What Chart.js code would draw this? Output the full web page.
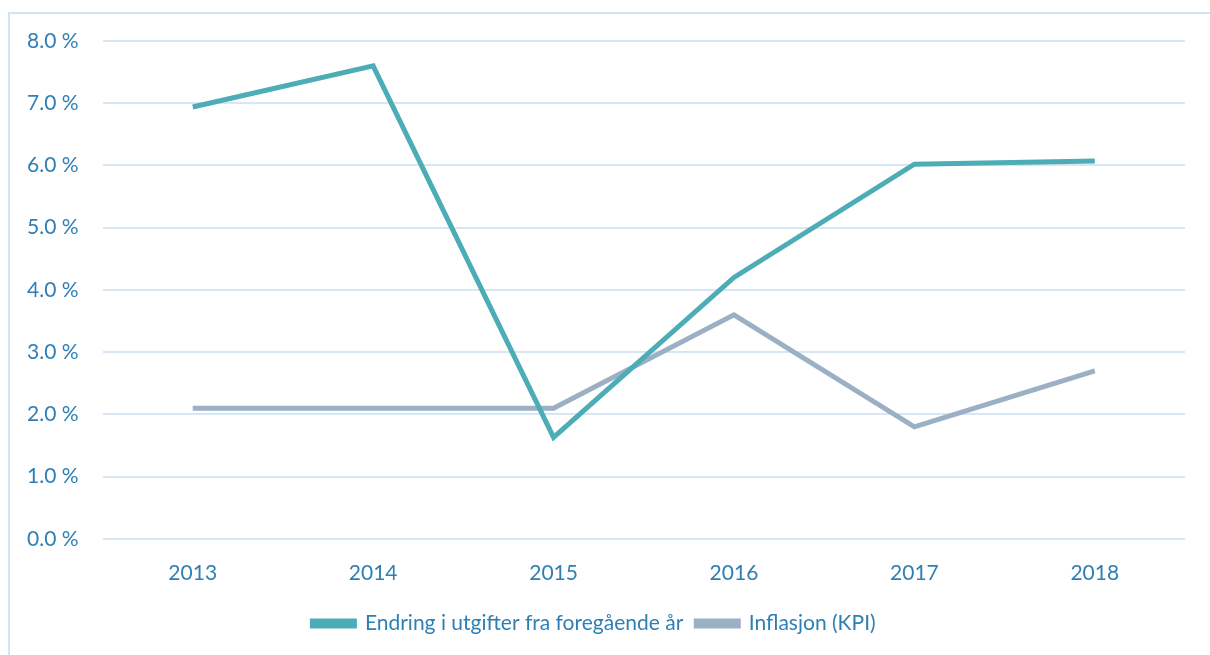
<!DOCTYPE html>
<html>
<head>
<meta charset="utf-8">
<script src="https://cdn.jsdelivr.net/npm/chart.js@4"></script>
<style>
  html, body { margin: 0; padding: 0; background: #fff; }
  #wrap { width: 1210px; height: 655px; }
</style>
</head>
<body>
<div id="wrap"><canvas id="chart"></canvas></div>
<script>
const years = ['2013', '2014', '2015', '2016', '2017', '2018'];
const endring = [6.94, 7.6, 1.63, 4.2, 6.02, 6.07];
const inflasjon = [2.1, 2.1, 2.1, 3.6, 1.8, 2.7];

const textColor = '#2f7fb5';

// light frame round the chart, like the original
const framePlugin = {
    id: 'frame',
    beforeDraw(chart) {
        const ctx = chart.ctx;
        ctx.save();
        ctx.fillStyle = '#fff';
        ctx.fillRect(0, 0, chart.width, chart.height);
        ctx.strokeStyle = '#d3e4f3';
        ctx.lineWidth = 2;
        ctx.strokeRect(9, 13, 1400, 1000);
        ctx.restore();
    }
};

new Chart(document.getElementById('chart'), {
    type: 'line',
    data: {
        labels: years,
        datasets: [{
            label: 'Endring i utgifter fra foregående år',
            data: endring,
            borderColor: '#4dadb7',
            backgroundColor: '#4dadb7',
            borderWidth: 5,
            pointRadius: 0,
            tension: 0
        }, {
            label: 'Inflasjon (KPI)',
            data: inflasjon,
            borderColor: '#9bafc5',
            backgroundColor: '#9bafc5',
            borderWidth: 5,
            pointRadius: 0,
            tension: 0
        }]
    },
    options: {
        responsive: true,
        maintainAspectRatio: false,
        animation: false,
        layout: {
            padding: { left: 3, right: 25, top: 41, bottom: 11 }
        },
        scales: {
            x: {
                offset: true,
                grid: { display: false },
                border: { display: false },
                ticks: {
                    color: textColor,
                    font: { family: 'Lato', size: 21 },
                    padding: 14
                }
            },
            y: {
                min: 0,
                max: 8,
                ticks: {
                    stepSize: 1,
                    color: textColor,
                    font: { family: 'Lato', size: 21 },
                    padding: 24,
                    callback: v => v.toFixed(1) + ' %'
                },
                grid: {
                    color: '#d6e6f4',
                    lineWidth: 2,
                    drawTicks: false
                },
                border: { display: false }
            }
        },
        plugins: {
            legend: {
                position: 'bottom',
                labels: {
                    color: textColor,
                    font: { family: 'Lato', size: 21 },
                    boxWidth: 42,
                    boxHeight: 5,
                    padding: 13
                }
            },
            tooltip: { enabled: false }
        }
    },
    plugins: [framePlugin]
});
</script>
</body>
</html>
